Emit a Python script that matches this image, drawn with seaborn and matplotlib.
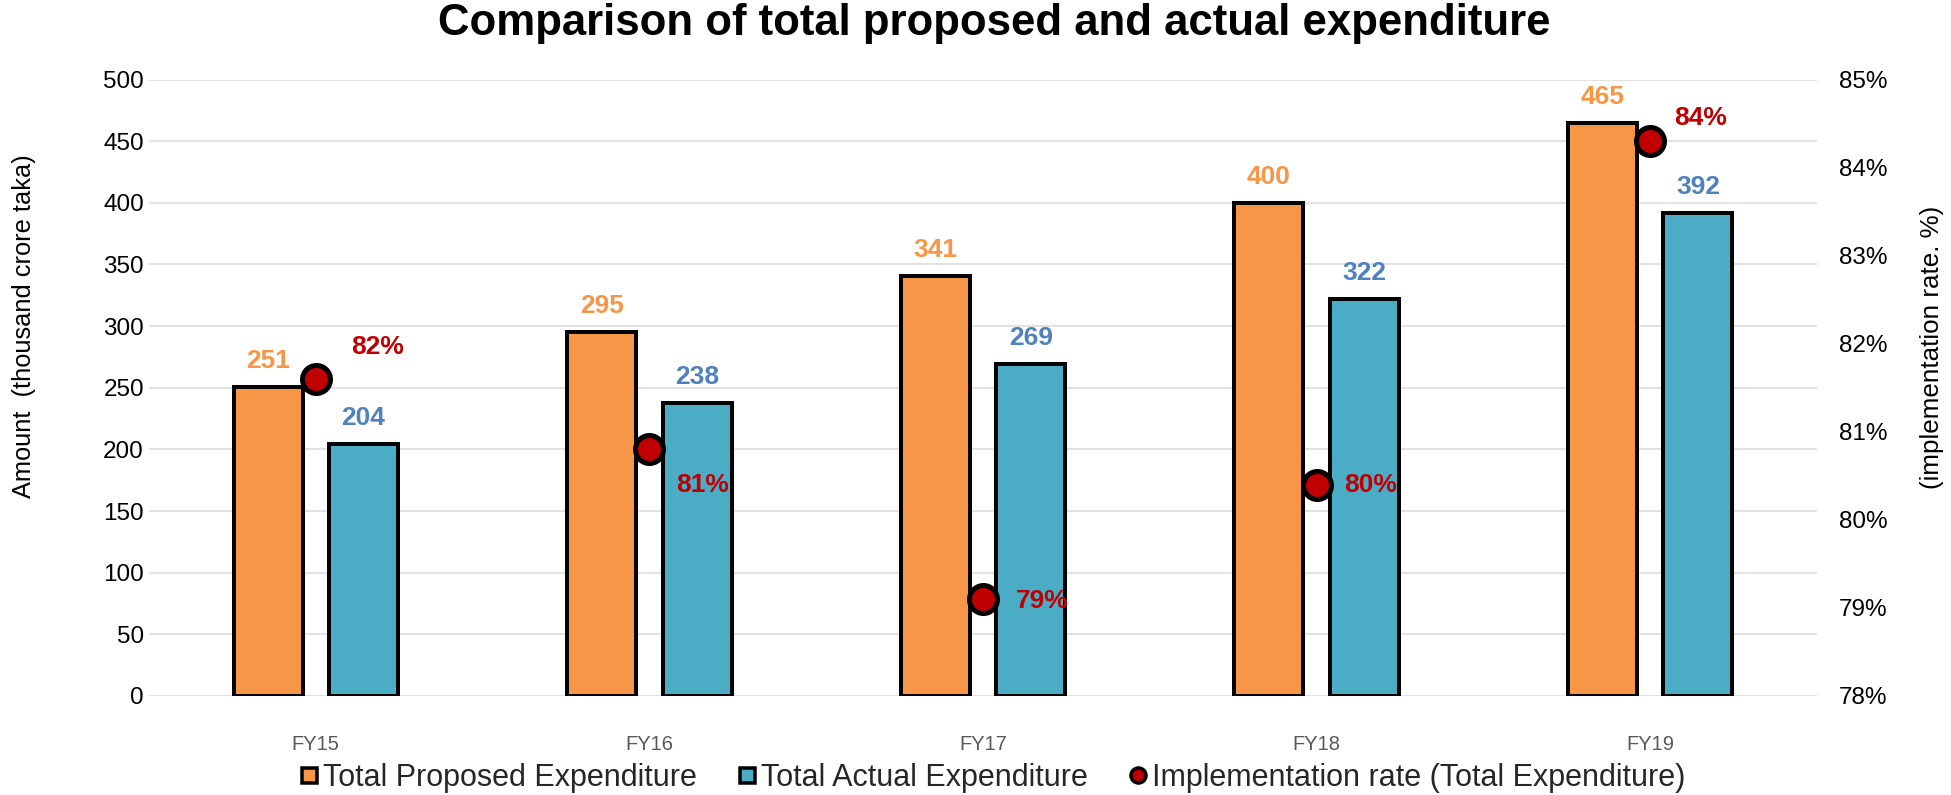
import numpy as np
import pandas as pd
import matplotlib
matplotlib.use("Agg")
import matplotlib.pyplot as plt
from matplotlib.lines import Line2D
from matplotlib.ticker import PercentFormatter
import seaborn as sns

# ---- data ----
years = ["FY15", "FY16", "FY17", "FY18", "FY19"]
proposed = [251, 295, 341, 400, 465]
actual = [204, 238, 269, 322, 392]
impl_rate = [81.6, 80.8, 79.1, 80.4, 84.3]
series_names = ["Total Proposed Expenditure", "Total Actual Expenditure"]
rate_name = "Implementation rate (Total Expenditure)"
left_ticks = [0, 50, 100, 150, 200, 250, 300, 350, 400, 450, 500]
right_ticks = [78, 79, 80, 81, 82, 83, 84, 85]

# ---- style ----
ORANGE = "#F79646"
BLUE = "#4BACC6"
RED = "#C00000"
ORANGE_TXT = "#F79646"
BLUE_TXT = "#4F81BD"
PX = 0.72  # points per pixel at dpi 100

sns.set_theme(style="white")
plt.rcParams["font.family"] = ["Liberation Sans", "DejaVu Sans"]

df = pd.DataFrame({
    "year": years * 2,
    "value": proposed + actual,
    "series": [series_names[0]] * len(years) + [series_names[1]] * len(years),
})

fig = plt.figure(figsize=(19.51, 7.95), dpi=100)
ax = fig.add_axes([149 / 1951, 1 - 696 / 795, 1668 / 1951, (696 - 79.5) / 795])

sns.barplot(data=df, x="year", y="value", hue="series", order=years,
            hue_order=series_names, palette=[ORANGE, BLUE], width=0.572, gap=0.276,
            edgecolor="black", linewidth=4 * PX, ax=ax, legend=False, saturation=1)

ax.set_ylim(0, 500)
ax.set_xlim(-0.5, len(years) - 0.5)
ax.set_yticks(left_ticks)
ax.yaxis.grid(True, color="#D9D9D9", linewidth=1.5 * PX)
ax.set_axisbelow(True)
for s in ax.spines.values():
    s.set_visible(False)
ax.tick_params(axis="y", length=0, pad=5 * PX, labelsize=17.5, labelcolor="black")
ax.tick_params(axis="x", length=0, pad=39 * PX, labelsize=14.5, labelcolor="#595959")
ax.set_xlabel("")
ax.set_ylabel("Amount  (thousand crore taka)", fontsize=18.3, color="black")
ax.yaxis.set_label_coords(-0.0677, 0.60)

# bar value labels
for cont, color in zip(ax.containers, [ORANGE_TXT, BLUE_TXT]):
    for rect in cont:
        h = rect.get_height()
        ax.annotate(f"{h:.0f}", (rect.get_x() + rect.get_width() / 2, h),
                    xytext=(0, 26 * PX), textcoords="offset points",
                    ha="center", va="center", fontsize=19, fontweight="bold", color=color)

# secondary axis: implementation rate
ax2 = ax.twinx()
xpos = np.arange(len(years))
sns.scatterplot(x=xpos, y=impl_rate, ax=ax2, s=(28 * PX) ** 2, color=RED,
                edgecolor="black", linewidth=5 * PX, zorder=5, legend=False)
ax2.set_ylim(78, 85)
ax2.set_yticks(right_ticks)
ax2.yaxis.set_major_formatter(PercentFormatter(decimals=0))
for s in ax2.spines.values():
    s.set_visible(False)
ax2.tick_params(axis="y", length=0, pad=22 * PX, labelsize=17.5, labelcolor="black")
ax2.set_ylabel("(implementation rate. %)", fontsize=18.7, color="black", rotation=90)
ax2.yaxis.set_label_coords(1.062, 0.565)
ax2.set_xlim(-0.5, len(years) - 0.5)

rate_offsets = [(62, 32), (53, -36), (59, -2), (54, 0), (50, 23)]
for x, r, (dx, dy) in zip(xpos, impl_rate, rate_offsets):
    ax2.annotate(f"{round(r)}%", (x, r), xytext=(dx * PX, dy * PX), textcoords="offset points",
                 ha="center", va="center", fontsize=19, fontweight="bold", color=RED, zorder=6)

# title
fig.text(994 / 1951, 1 - 24 / 795, "Comparison of total proposed and actual expenditure",
         ha="center", va="center", fontsize=31.5, fontweight="bold", color="black")

# legend
handles = [
    Line2D([], [], linestyle="none", marker="s", markersize=15 * PX, markerfacecolor=ORANGE,
           markeredgecolor="black", markeredgewidth=3.5 * PX),
    Line2D([], [], linestyle="none", marker="s", markersize=15 * PX, markerfacecolor=BLUE,
           markeredgecolor="black", markeredgewidth=3.5 * PX),
    Line2D([], [], linestyle="none", marker="o", markersize=15 * PX, markerfacecolor=RED,
           markeredgecolor="black", markeredgewidth=3.5 * PX),
]
fig.legend(handles, series_names + [rate_name], loc="center", bbox_to_anchor=(992 / 1951, 1 - 778 / 795),
           ncol=3, frameon=False, fontsize=22,
           handlelength=0.7, handletextpad=0.1, columnspacing=1.3, borderaxespad=0)

fig.savefig("out.png", dpi=100)
